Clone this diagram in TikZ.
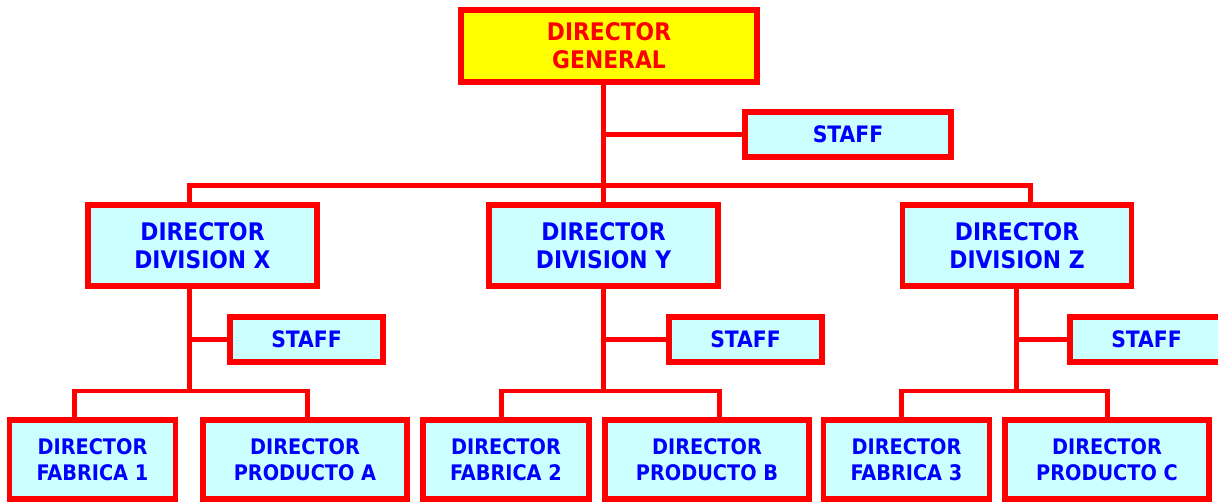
\documentclass[tikz,border=0pt]{standalone}
\usepackage{fontspec}
\setmainfont{DejaVu Sans Condensed}
\usepackage{xcolor}
\definecolor{OrgRed}{HTML}{FF0000}
\definecolor{OrgYellow}{HTML}{FFFF00}
\definecolor{OrgCyan}{HTML}{CCFFFF}
\definecolor{OrgBlue}{HTML}{0000FF}
\usepackage{tikz}
\usetikzlibrary{positioning}
\tikzset{
  orgbox/.style={draw=OrgRed, fill=OrgCyan, text=OrgBlue, line width=0.11cm, align=center,
                 inner sep=0pt, outer sep=0pt, font=\bfseries\fontsize{13.8}{15.9}\selectfont},
  orgtop/.style={orgbox, fill=OrgYellow, text=OrgRed, minimum width=5.93cm, minimum height=1.45cm},
  orgdiv/.style={orgbox, minimum width=4.59cm, minimum height=1.63cm},
  orgstaff/.style={orgbox, minimum width=3.07cm, minimum height=0.91cm,
                 font=\bfseries\fontsize{12.9}{14}\selectfont},
  orgfab/.style={orgbox, minimum width=3.33cm, minimum height=1.59cm,
                 font=\bfseries\fontsize{12.2}{14.8}\selectfont},
  orgprod/.style={orgfab, minimum width=4.09cm},
  orgline/.style={draw=OrgRed, line width=0.1cm, line join=miter}
}
\begin{document}
\begin{tikzpicture}[x=0.02cm, y=-0.02cm]
\useasboundingbox (0,0) rectangle (1218,503);
\node[orgtop] (dg) at (609,46) {DIRECTOR\\GENERAL};
\node[orgstaff, minimum width=4.13cm] (st0) at (848,134.5) {STAFF};
\node[orgdiv] (divx) at (202.5,245.5) {DIRECTOR\\DIVISION X};
\node[orgdiv] (divy) at (603.5,245.5) {DIRECTOR\\DIVISION Y};
\node[orgdiv] (divz) at (1017,245.5) {DIRECTOR\\DIVISION Z};
\node[orgstaff] (stx) at (306.5,339.5) {STAFF};
\node[orgstaff] (sty) at (745.5,339.5) {STAFF};
\node[orgstaff] (stz) at (1146.5,339.5) {STAFF};
\node[orgfab] (fab1) at (92.5,459.5) {DIRECTOR\\FABRICA 1};
\node[orgprod] (proda) at (305,459.5) {DIRECTOR\\PRODUCTO A};
\node[orgfab] (fab2) at (506,459.5) {DIRECTOR\\FABRICA 2};
\node[orgprod] (prodb) at (707,459.5) {DIRECTOR\\PRODUCTO B};
\node[orgfab] (fab3) at (906.5,459.5) {DIRECTOR\\FABRICA 3};
\node[orgprod] (prodc) at (1107,459.5) {DIRECTOR\\PRODUCTO C};

\coordinate (j0) at (603,186);
\coordinate (b0l) at (189,186);
\coordinate (b0r) at (1030,186);
\draw[orgline] (dg.south -| j0) -- (j0) -- (divy.north -| j0);
\draw[orgline] (j0 |- st0.west) -- (st0.west);
\draw[orgline] (divx.north -| b0l) -- (b0l) -- (b0r) -- (divz.north -| b0r);

\coordinate (jx) at (189,391);
\coordinate (bxl) at (74,391);
\coordinate (bxr) at (307,391);
\draw[orgline] (divx.south -| jx) -- (jx);
\draw[orgline] (jx |- stx.west) -- (stx.west);
\draw[orgline] (fab1.north -| bxl) -- (bxl) -- (bxr) -- (proda.north -| bxr);

\coordinate (jy) at (603,391);
\coordinate (byl) at (501,391);
\coordinate (byr) at (719,391);
\draw[orgline] (divy.south -| jy) -- (jy);
\draw[orgline] (jy |- sty.west) -- (sty.west);
\draw[orgline] (fab2.north -| byl) -- (byl) -- (byr) -- (prodb.north -| byr);

\coordinate (jz) at (1016,391);
\coordinate (bzl) at (901,391);
\coordinate (bzr) at (1107,391);
\draw[orgline] (divz.south -| jz) -- (jz);
\draw[orgline] (jz |- stz.west) -- (stz.west);
\draw[orgline] (fab3.north -| bzl) -- (bzl) -- (bzr) -- (prodc.north -| bzr);
\end{tikzpicture}
\end{document}
